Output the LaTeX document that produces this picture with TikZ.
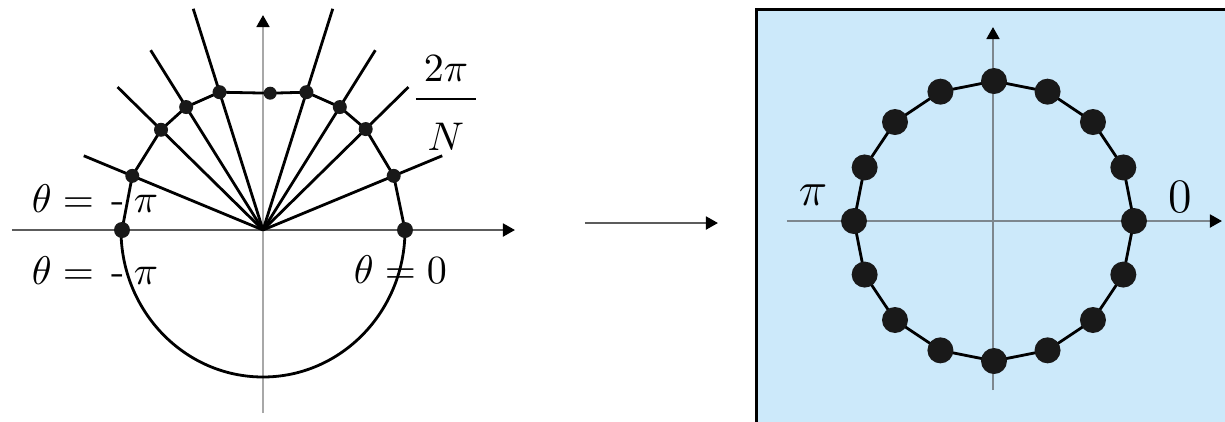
\documentclass[tikz,border=0pt]{standalone}
\usepackage{amsmath}
\usepackage{tikz}
\usetikzlibrary{calc}
\usetikzlibrary{arrows.meta}
\definecolor{panelblue}{HTML}{CCE9FA}
\definecolor{axisdark}{HTML}{5C5C5C}
\definecolor{axislight}{HTML}{A8A8A8}
\definecolor{axisblue}{HTML}{7D878E}

\begin{document}
\begin{tikzpicture}[x=0.25pt, y=0.25pt,
    axis/.style={line width=0.6pt, -{Triangle[length=3pt, width=3.2pt, color=black]}},
    edge/.style={line width=0.7pt, black},
    lbl/.style={anchor=base west, inner sep=0pt}]

    \clip (0,0) rectangle (1225,421);

    % sampled half circle
    \coordinate (o) at (263,191);
    \coordinate (xl) at (12,191);
    \coordinate (xr) at (515,191);
    \coordinate (yb) at (263,8);
    \coordinate (yt) at (263,406);
    \draw[axis, axisdark] (xl) -- (xr);
    \draw[axis, axislight] (yb) -- (yt);

    \foreach \a/\l [count=\i] in {22.5/194, 44.5/204, 58/212, 72.5/232, 107.5/232, 122/212, 135.5/204, 157.5/194} {
        \coordinate (ray\i) at ($(o)+(\a:\l)$);
        \draw[edge] (o) -- (ray\i);
    }

    \foreach \a/\r [count=\i from 0] in {0/142, 22.5/141.5, 44.5/144, 58/145, 72.5/144.5, 87/137, 107.5/144.5, 122/145, 135.5/143, 157.5/141.5, 180/141}
        \coordinate (p\i) at ($(o)+(\a:\r)$);

    \draw[edge] (p10) -- (p9) -- (p8) -- (p7) -- (p6) -- (p5) -- (p4) -- (p3) -- (p2) -- (p1) -- (p0);
    \draw[edge] (p0) arc[start angle=0, end angle=-180, x radius=142, y radius=147];

    \foreach \i/\s in {0/8, 1/7, 2/7, 3/7, 4/7, 5/6.5, 6/7, 7/7, 8/7, 9/7, 10/8}
        \fill[black!90] (p\i) circle[radius=\s];

    \node[lbl] (thup) at (31,209) {$\theta = \mkern3mu\text{-}\mkern4mu\pi$};
    \node[lbl] (thdown) at (31,137) {$\theta = \mkern3mu\text{-}\mkern4mu\pi$};
    \node[lbl] (thzero) at (353,138) {$\theta = 0$};
    \node[anchor=base, inner sep=0pt] (step) at (446,312) {$\dfrac{\hspace{2pt}2\pi\hspace{2pt}}{\rule{0pt}{11.4pt}N}$};

    % mapping arrow
    \coordinate (ma) at (585,198);
    \coordinate (mb) at (718,198);
    \draw[axis, axisdark] (ma) -- (mb);

    % full circle of N points
    \coordinate (boxnw) at (756.5,411.5);
    \coordinate (boxse) at (1240,-20);
    \draw[line width=0.75pt, fill=panelblue] (boxnw) rectangle (boxse);

    \coordinate (c) at (994,200);
    \coordinate (cxl) at (787,200);
    \coordinate (cxr) at (1222,200);
    \coordinate (cyb) at (993,31);
    \coordinate (cyt) at (993,394);
    \draw[axis, axisblue] (cxl) -- (cxr);
    \draw[axis, axisblue] (cyb) -- (cyt);

    \foreach \k in {0,...,15}
        \coordinate (q\k) at ($(c)+(\k*22.5:140)$);
    \draw[edge] (q0) \foreach \k in {1,...,15} {-- (q\k)} -- cycle;
    \foreach \k in {0,...,15}
        \fill[black!90] (q\k) circle[radius=13];

    \node (lpi) at (813,226) {\large$\pi$};
    \node (lzero) at (1180,224) {\large$0$};

\end{tikzpicture}
\end{document}
